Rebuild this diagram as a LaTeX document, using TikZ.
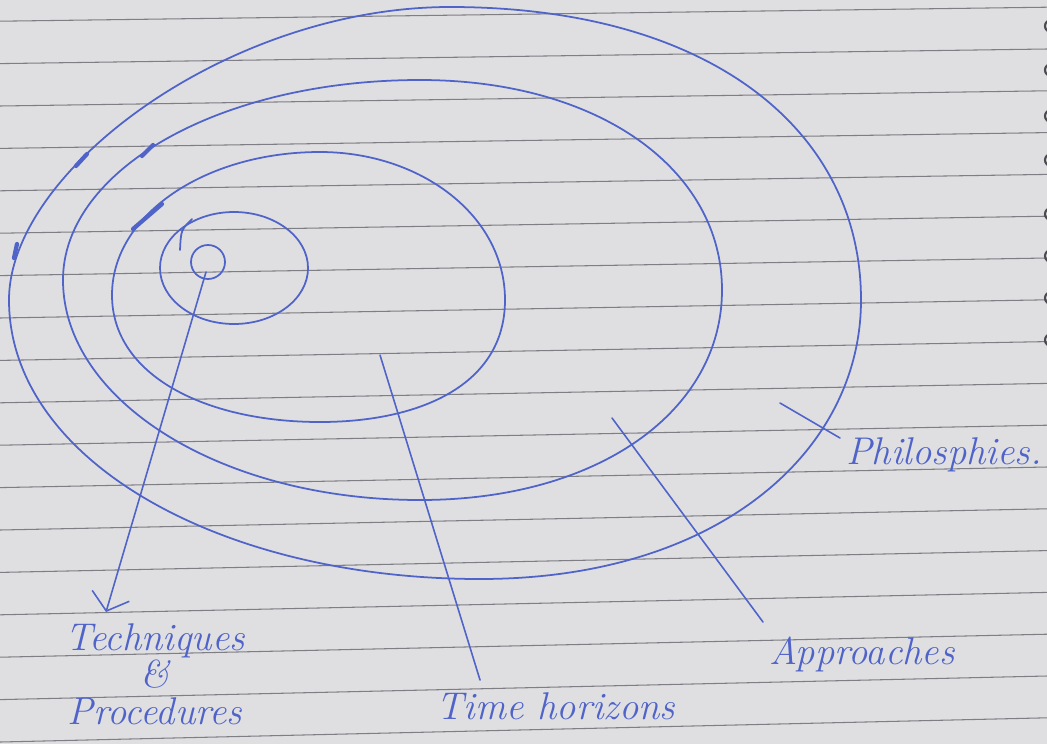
\documentclass[tikz,border=0pt]{standalone}
\usepackage{xcolor}
\usetikzlibrary{arrows.meta,positioning}
\definecolor{ink}{HTML}{4F63C9}
\definecolor{paper}{HTML}{DFDFE1}
\definecolor{rule}{HTML}{7E7E84}
\definecolor{hole}{HTML}{4A4A50}

\begin{document}
\begin{tikzpicture}[x=0.02cm,y=-0.02cm,
  pen/.style={draw=ink,line width=1pt,line cap=round},
  blot/.style={draw=ink,line width=2.4pt,line cap=round},
  lead/.style={draw=ink,line width=0.9pt,line cap=round},
  hand/.style={text=ink,font=\itshape\fontsize{22}{21}\selectfont,inner sep=0pt,align=center}]
\fill[paper] (0,0) rectangle (1047,744);
\useasboundingbox (0,0) rectangle (1047,744);
% ruled lines of the page
\foreach \k in {0,...,17}
  \draw[rule,line width=0.6pt] (0,742-42.4*\k) -- (1047,717.8-41.8*\k);
% spiral binding marks at the edge
\begin{scope}
\clip (0,0) rectangle (1047,744);
\foreach \y in {2,38,82,128,172,226,268,310,352}
  \draw[hole,line width=1.2pt] (1051,\y-6) arc[start angle=90,end angle=270,radius=6];
\end{scope}
% rings, outer to inner
\draw[pen] (9,300) .. controls (9,170) and (230,7) .. (450,7)
  .. controls (710,7) and (861,130) .. (861,300)
  .. controls (861,450) and (720,579) .. (480,579)
  .. controls (220,579) and (9,460) .. cycle;
\draw[pen] (63,280) .. controls (63,170) and (220,80) .. (420,80)
  .. controls (600,80) and (722,170) .. (722,290)
  .. controls (722,410) and (600,500) .. (420,500)
  .. controls (220,500) and (63,400) .. cycle;
\draw[pen] (112,295) .. controls (112,215) and (205,152) .. (320,152)
  .. controls (420,152) and (505,215) .. (505,300)
  .. controls (505,385) and (420,422) .. (320,422)
  .. controls (205,422) and (112,375) .. cycle;
\draw[pen] (234,268) ellipse[x radius=74,y radius=56];
\draw[pen] (192,219) .. controls (181,230) .. (180,250);
\draw[pen] (208,262) circle[radius=17];
% pen blots where the rings were started
\draw[blot] (76,166) -- (87,154);
\draw[blot] (142,156) -- (153,145);
\draw[blot] (133,229) -- (162,204);
\draw[blot] (17,244) -- (14,258);
% labels
\node[hand] (tech) at (155,674) {Techniques\\ \&\\ Procedures};
\node[hand] (time) at (556,706) {Time horizons};
\node[hand] (appr) at (862,654) {Approaches};
\node[hand] (phil) at (944,455) {Philosphies.};
% leader lines
\coordinate (c1) at (206,272);
\coordinate (t1) at (106,612);
\coordinate (c2) at (380,355);
\coordinate (t2) at (480,680);
\coordinate (c3) at (612,418);
\coordinate (t3) at (763,622);
\coordinate (c4) at (780,403);
\coordinate (t4) at (840,438);
\draw[lead,-{Straight Barb[length=9pt,width=22pt]}] (c1) -- (t1);
\draw[lead] (c2) -- (t2);
\draw[lead] (c3) -- (t3);
\draw[lead] (c4) -- (t4);
\end{tikzpicture}
\end{document}
